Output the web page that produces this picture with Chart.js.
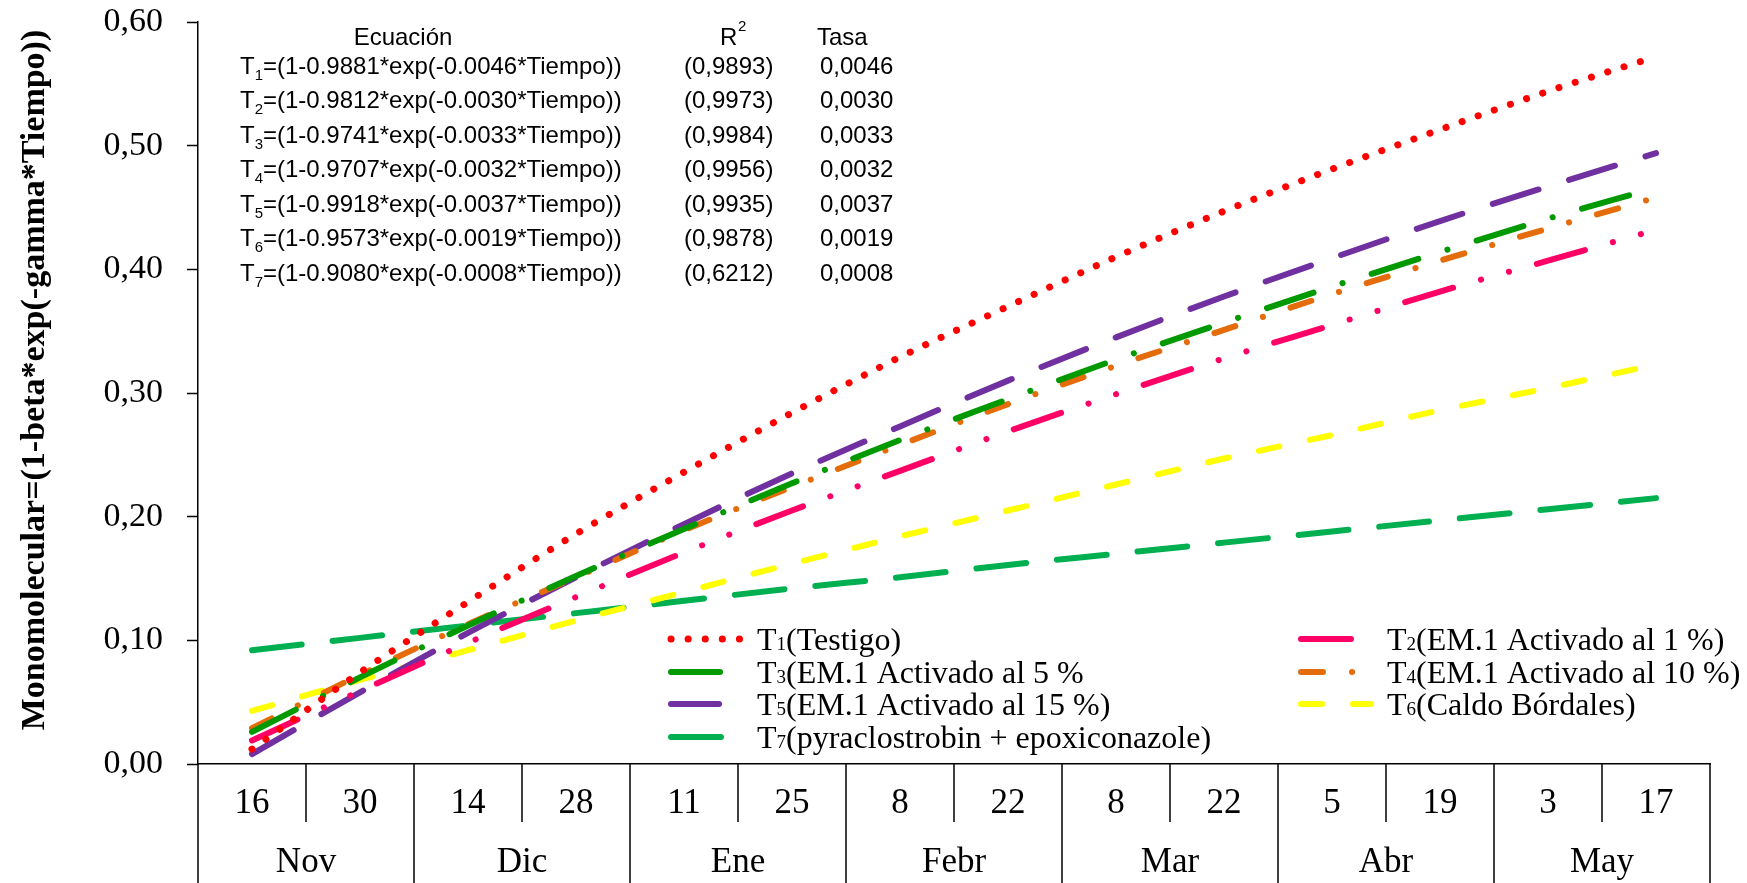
<!DOCTYPE html>
<html>
<head>
<meta charset="utf-8">
<title>Monomolecular</title>
<script src="https://cdn.jsdelivr.net/npm/chart.js@4.4.1/dist/chart.umd.min.js"></script>
<style>
    html, body { margin: 0; padding: 0; background: #fff; }
    #wrap { width: 1747px; height: 883px; }
</style>
</head>
<body>
<div id="wrap"><canvas id="chart" width="1747" height="883"></canvas></div>
<script>
// fechas de evaluación (cada 14 días) y meses
const days = ['16', '30', '14', '28', '11', '25', '8', '22', '8', '22', '5', '19', '3', '17'];
const months = ['Nov', 'Dic', 'Ene', 'Febr', 'Mar', 'Abr', 'May'];

// valores
const t1 = [0.012, 0.074, 0.131, 0.186, 0.236, 0.284, 0.329, 0.370, 0.410, 0.447, 0.481, 0.513, 0.544, 0.572];
const t2 = [0.019, 0.059, 0.098, 0.135, 0.171, 0.205, 0.237, 0.269, 0.299, 0.328, 0.355, 0.382, 0.407, 0.432];
const t3 = [0.026, 0.070, 0.112, 0.152, 0.190, 0.227, 0.262, 0.295, 0.327, 0.357, 0.386, 0.414, 0.441, 0.466];
const t4 = [0.029, 0.072, 0.113, 0.151, 0.189, 0.224, 0.258, 0.291, 0.322, 0.351, 0.380, 0.407, 0.433, 0.458];
const t5 = [0.008, 0.058, 0.106, 0.151, 0.194, 0.235, 0.273, 0.310, 0.345, 0.378, 0.409, 0.439, 0.467, 0.494];
const t6 = [0.043, 0.068, 0.092, 0.116, 0.139, 0.162, 0.184, 0.205, 0.226, 0.247, 0.266, 0.286, 0.304, 0.323];
const t7 = [0.092, 0.102, 0.112, 0.122, 0.132, 0.142, 0.151, 0.161, 0.170, 0.179, 0.188, 0.197, 0.206, 0.215];

const names = [
    'T₁(Testigo)',
    'T₂(EM.1 Activado al 1 %)',
    'T₃(EM.1 Activado al 5 %',
    'T₄(EM.1 Activado al 10 %)',
    'T₅(EM.1 Activado al 15 %)',
    'T₆(Caldo Bórdales)',
    'T₇(pyraclostrobin + epoxiconazole)'
];

// tabla de ecuaciones
const betas = ['0.9881', '0.9812', '0.9741', '0.9707', '0.9918', '0.9573', '0.9080'];
const gammas = ['0.0046', '0.0030', '0.0033', '0.0032', '0.0037', '0.0019', '0.0008'];
const r2 = ['0,9893', '0,9973', '0,9984', '0,9956', '0,9935', '0,9878', '0,6212'];
const tasa = ['0,0046', '0,0030', '0,0033', '0,0032', '0,0037', '0,0019', '0,0008'];

const yTicks = [0, 0.1, 0.2, 0.3, 0.4, 0.5, 0.6];
const yTitle = 'Monomolecular=(1-beta*exp(-gamma*Tiempo))';

const SERIF = '"Liberation Serif", "Times New Roman", serif';
const SANS = '"Liberation Sans", Arial, sans-serif';

const styles = [
    { color: '#FF0000', dash: [0.1, 17], width: 7 },
    { color: '#FF0066', dash: [50, 29, 0.1, 29, 0.1, 29], width: 6 },
    { color: '#009A00', dash: [49, 30.5, 0.1, 30.5], width: 6 },
    { color: '#E46C0A', dash: [22, 29, 0.1, 29], width: 6 },
    { color: '#7030A0', dash: [48, 32], width: 6 },
    { color: '#FFFF00', dash: [21, 31], width: 6 },
    { color: '#00B050', dash: [50, 31], width: 6 }
];
const series = [t1, t2, t3, t4, t5, t6, t7];

const datasets = series.map((values, i) => ({
    label: names[i],
    data: values,
    borderColor: styles[i].color,
    backgroundColor: styles[i].color,
    borderDash: styles[i].dash,
    borderWidth: styles[i].width,
    borderCapStyle: 'round',
    pointRadius: 0,
    cubicInterpolationMode: 'monotone',
    fill: false
}));

// "T" + subíndice pequeño + resto del texto
function drawT(ctx, text, x, y, size, subSize, subDrop) {
    const code = text.charCodeAt(1);
    const sub = code >= 0x2080 && code <= 0x2089 ? String(code - 0x2080) : text.charAt(1);
    const fam = ctx.font.replace(/^.*?px /, '');
    ctx.font = size + 'px ' + fam;
    ctx.fillText('T', x, y);
    x += ctx.measureText('T').width;
    ctx.font = subSize + 'px ' + fam;
    ctx.fillText(sub, x, y + subDrop);
    x += ctx.measureText(sub).width;
    ctx.font = size + 'px ' + fam;
    ctx.fillText(text.slice(2), x, y);
}

// eje x en forma de tabla: días arriba, meses abajo
const xTable = {
    id: 'xTable',
    afterDraw(chart) {
        const ctx = chart.ctx;
        const x = chart.scales.x;
        const area = chart.chartArea;
        const w = x.getPixelForValue(1) - x.getPixelForValue(0);
        const bottom = chart.height;
        ctx.save();
        ctx.strokeStyle = '#000';
        ctx.lineWidth = 1.5;
        ctx.fillStyle = '#000';
        ctx.textAlign = 'center';
        ctx.textBaseline = 'alphabetic';

        ctx.beginPath();
        ctx.moveTo(area.left, area.bottom);
        ctx.lineTo(area.left, bottom);
        days.forEach((d, i) => {
            const edge = x.getPixelForValue(i) + w / 2;
            ctx.moveTo(edge, area.bottom);
            ctx.lineTo(edge, i % 2 === 0 ? area.bottom + 58 : bottom);
        });
        ctx.stroke();

        ctx.font = '35px ' + SERIF;
        days.forEach((d, i) => {
            ctx.fillText(d, x.getPixelForValue(i), area.bottom + 49);
        });
        months.forEach((m, j) => {
            const cx = (x.getPixelForValue(2 * j) + x.getPixelForValue(2 * j + 1)) / 2;
            ctx.fillText(m, cx, area.bottom + 108);
        });
        ctx.restore();
    }
};

// título del eje y, ecuaciones, R2 y tasa
const eqTable = {
    id: 'eqTable',
    afterDraw(chart) {
        const ctx = chart.ctx;
        const area = chart.chartArea;
        ctx.save();
        ctx.fillStyle = '#000';

        ctx.save();
        ctx.translate(35, (area.top + area.bottom) / 2 - 13);
        ctx.rotate(-Math.PI / 2);
        ctx.font = 'bold 34px ' + SERIF;
        ctx.textAlign = 'center';
        ctx.textBaseline = 'middle';
        ctx.fillText(yTitle, 0, 0);
        ctx.restore();

        ctx.textBaseline = 'alphabetic';
        ctx.font = '24px ' + SANS;
        ctx.textAlign = 'center';
        ctx.fillText('Ecuación', 403, 45);
        ctx.textAlign = 'left';
        ctx.fillText('R', 720, 45);
        ctx.fillText('Tasa', 817, 45);
        ctx.font = '15px ' + SANS;
        ctx.fillText('2', 738, 31);

        betas.forEach((b, i) => {
            const y = 73.5 + i * 34.5;
            ctx.font = '24px ' + SANS;
            drawT(ctx, 'T' + (i + 1) + '=(1-' + b + '*exp(-' + gammas[i] + '*Tiempo))', 240, y, 24, 15, 6);
            ctx.fillText('(' + r2[i] + ')', 684, y);
            ctx.fillText(tasa[i], 820, y);
        });
        ctx.restore();
    }
};

// leyenda en dos columnas dentro del área
const legendBox = {
    id: 'legendBox',
    afterDraw(chart) {
        const ctx = chart.ctx;
        const slots = [
            [671, 639], [1301, 639],
            [671, 672], [1301, 672],
            [671, 704], [1301, 704],
            [671, 737]
        ];
        ctx.save();
        chart.data.datasets.forEach((ds, i) => {
            const [sx, sy] = slots[i];
            ctx.beginPath();
            ctx.setLineDash(ds.borderDash);
            ctx.lineCap = 'round';
            ctx.lineWidth = ds.borderWidth;
            ctx.strokeStyle = ds.borderColor;
            ctx.moveTo(sx, sy);
            ctx.lineTo(sx + 70, sy);
            ctx.stroke();
            ctx.setLineDash([]);
            ctx.fillStyle = '#000';
            ctx.font = '32px ' + SERIF;
            ctx.textAlign = 'left';
            ctx.textBaseline = 'alphabetic';
            drawT(ctx, ds.label, sx + 86, sy + 11, 32, 19, 0);
        });
        ctx.restore();
    }
};

new Chart(document.getElementById('chart'), {
    type: 'line',
    data: { labels: days, datasets: datasets },
    options: {
        responsive: false,
        animation: false,
        layout: { autoPadding: false, padding: { top: 22, right: 37, bottom: 0, left: 0 } },
        plugins: { legend: { display: false }, tooltip: { enabled: false } },
        scales: {
            x: {
                type: 'category',
                offset: true,
                grid: { display: false },
                border: { display: true, color: '#000', width: 1.5 },
                ticks: { display: false },
                afterFit: s => { s.height = 119; }
            },
            y: {
                min: 0,
                max: 0.6,
                afterBuildTicks: s => { s.ticks = yTicks.map(v => ({ value: v })); },
                grid: { drawOnChartArea: false, drawTicks: true, tickLength: 11, tickColor: '#000', tickWidth: 1.5 },
                border: { display: true, color: '#000', width: 1.5 },
                ticks: {
                    color: '#000',
                    padding: 24,
                    font: { family: SERIF, size: 34 },
                    callback: v => v.toFixed(2).replace('.', ',')
                },
                // ancho fijo; sin relleno extra arriba para que 0,60 quede pegado al borde
                afterFit: s => { s.width = 198; s.paddingTop = 0; s.paddingBottom = 0; }
            }
        }
    },
    plugins: [xTable, eqTable, legendBox]
});
</script>
</body>
</html>
